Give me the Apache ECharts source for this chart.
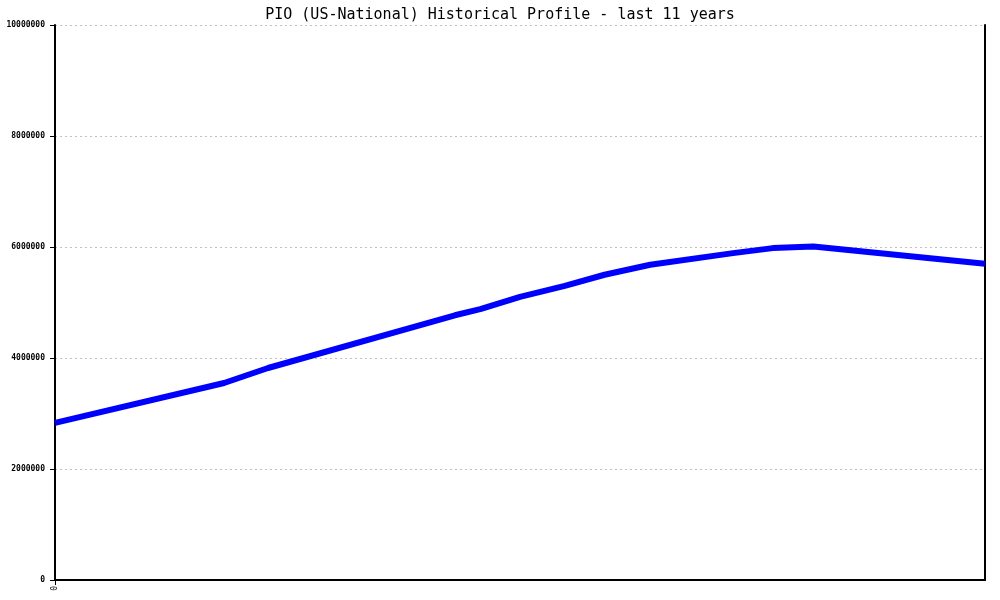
<!DOCTYPE html>
<html>
<head>
<meta charset="utf-8">
<script src="https://cdn.jsdelivr.net/npm/echarts@6/dist/echarts.min.js"></script>
<style>
  html, body { margin: 0; padding: 0; background: #fff; }
  #chart { width: 1000px; height: 600px; }
</style>
</head>
<body>
<div id="chart"></div>
<script>
// years since start of the window
const years = [0, 2.0, 2.52, 4.73, 5.03, 5.5, 6.03, 6.5, 7.04, 8.02, 8.49, 8.97, 11]
const values = [2830000, 3550000, 3820000, 4770000, 4880000, 5100000, 5300000, 5500000, 5680000, 5890000, 5980000, 6010000, 5700000]
const yTicks = [0, 2000000, 4000000, 6000000, 8000000, 10000000]
const xLabels = [0]

const mono = 'DejaVu Sans Mono'
const chart = echarts.init(document.getElementById('chart'))

chart.setOption({
  animation: false,
  title: {
    text: 'PIO (US-National) Historical Profile - last 11 years',
    left: 'center',
    top: 3,
    textStyle: { fontFamily: mono, fontSize: 15, fontWeight: 'normal', color: '#000' },
  },
  grid: { left: 55, right: 15, top: 25, bottom: 20, containLabel: false },
  xAxis: {
    type: 'value',
    min: 0,
    max: 11,
    axisLine: { lineStyle: { color: '#000', width: 2 } },
    axisTick: { show: true, customValues: xLabels, length: 5, lineStyle: { color: '#000' } },
    axisLabel: {
      customValues: xLabels,
      rotate: 90,
      fontFamily: mono,
      fontSize: 8,
      color: '#000',
      margin: 6,
    },
    splitLine: { show: false },
  },
  yAxis: [
    {
      type: 'value',
      min: 0,
      max: 10000000,
      interval: 2000000,
      axisLine: { show: true, lineStyle: { color: '#000', width: 2 } },
      axisTick: { show: true, length: 5, lineStyle: { color: '#000' } },
      axisLabel: {
        customValues: yTicks,
        formatter: v => String(v),
        fontFamily: mono,
        fontSize: 8,
        fontWeight: 'bold',
        color: '#000',
        margin: 10,
      },
      splitLine: { show: true, lineStyle: { color: '#c0c0c0', type: [2, 3] } },
    },
    {
      type: 'value',
      position: 'right',
      min: 0,
      max: 10000000,
      interval: 2000000,
      axisLine: { show: true, lineStyle: { color: '#000', width: 2 } },
      axisTick: { show: false },
      axisLabel: { show: false },
      splitLine: { show: false },
    },
  ],
  series: [
    {
      type: 'line',
      data: years.map((y, i) => [y, values[i]]),
      showSymbol: false,
      smooth: false,
      lineStyle: { color: '#0000ff', width: 6 },
      z: 3,
    },
  ],
})
</script>
</body>
</html>
